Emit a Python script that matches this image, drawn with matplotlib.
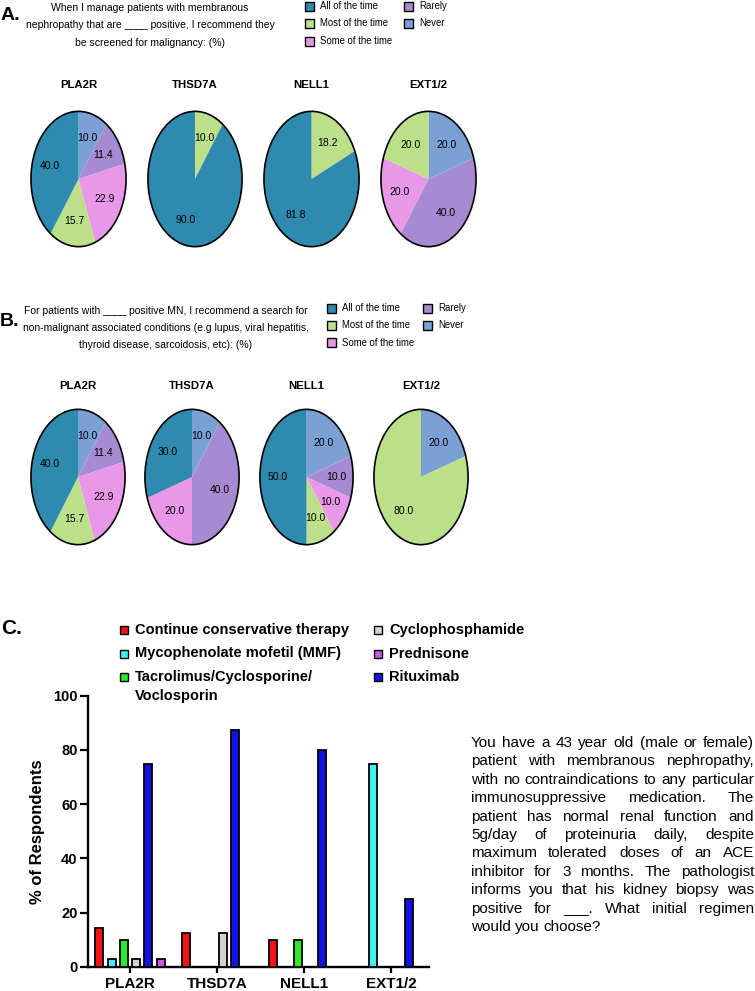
import numpy as np
import matplotlib
matplotlib.use("Agg")
import matplotlib.pyplot as plt
from matplotlib.patches import Rectangle, Ellipse

W, H = 755, 991
fig = plt.figure(figsize=(W / 100, H / 100), dpi=100)

ARIAL = ["Liberation Sans", "DejaVu Sans"]

# ---- data ----
antigens = ["PLA2R", "THSD7A", "NELL1", "EXT1/2"]
freq_labels = ["All of the time", "Most of the time", "Some of the time", "Rarely", "Never"]
freq_colors = ["#2E8AAE", "#BCE08A", "#E997E9", "#A68BD3", "#7BA1D4"]

# values per antigen, order: All, Most, Some, Rarely, Never
malignancy = [[40.0, 15.7, 22.9, 11.4, 10.0],
              [90.0, 10.0, 0, 0, 0],
              [81.8, 18.2, 0, 0, 0],
              [0, 20.0, 20.0, 40.0, 20.0]]
non_malignant = [[40.0, 15.7, 22.9, 11.4, 10.0],
                 [30.0, 0, 20.0, 40.0, 10.0],
                 [50.0, 10.0, 10.0, 10.0, 20.0],
                 [0, 80.0, 0, 0, 20.0]]

regimens = ["Continue conservative therapy", "Mycophenolate mofetil (MMF)",
            "Tacrolimus/Cyclosporine/\nVoclosporin", "Cyclophosphamide",
            "Prednisone", "Rituximab"]
regimen_colors = ["#F21313", "#3FF2F2", "#2BEB2B", "#D2D2D2", "#C55BE6", "#1212E6"]
# bar order within group: conservative, MMF, tacrolimus, cyclophosphamide, rituximab, prednisone
bar_order = [0, 1, 2, 3, 5, 4]
regimen_pct = {  # cols = regimens (legend order)
    "PLA2R":  [14.3, 2.9, 10.0, 2.9, 2.9, 75.0],
    "THSD7A": [12.5, 0, 0, 12.5, 0, 87.5],
    "NELL1":  [10.0, 0, 10.0, 0, 0, 80.0],
    "EXT1/2": [0, 75.0, 0, 0, 0, 25.0],
}

question_c = [
    "You have a 43 year old (male or female)",
    "patient with membranous nephropathy,",
    "with no contraindications to any particular",
    "immunosuppressive medication. The",
    "patient has normal renal function and",
    "5g/day of proteinuria daily, despite",
    "maximum tolerated doses of an ACE",
    "inhibitor for 3 months. The pathologist",
    "informs you that his kidney biopsy was",
    "positive for ___. What initial regimen",
    "would you choose?",
]


def fx(px):
    return px / W


def fy(py):
    return 1 - py / H


def legend_block(x, y, labels, colors, rows, col_x, row_dy, box, gap, line_dy=19, **kw):
    for i, (lab, c) in enumerate(zip(labels, colors)):
        col, row = divmod(i, rows)
        px = x + col_x[col]
        py = y + row * row_dy
        fig.patches.append(Rectangle((fx(px), fy(py + box / 2)), box / W, box / H,
                                     transform=fig.transFigure, fc=c, ec="black", lw=1.0))
        for k, line in enumerate(lab.split("\n")):
            fig.text(fx(px + box + gap), fy(py + k * line_dy), line, va="center", ha="left", **kw)


def pie_row(values, boxes, cy, title_y):
    for name, vals, (x0, x1) in zip(antigens, values, boxes):
        h = 138
        ax = fig.add_axes([fx(x0), fy(cy + h / 2), (x1 - x0) / W, h / H])
        order = [4, 3, 2, 1, 0]
        v = [vals[i] for i in order]
        c = [freq_colors[i] for i in order]
        ax.pie(v, colors=c, startangle=90, counterclock=False,
               autopct=lambda p: f"{p:.1f}" if p > 0.05 else "", pctdistance=0.63,
               wedgeprops=dict(linewidth=0), textprops=dict(family=ARIAL, fontsize=7.5))
        ax.add_patch(Ellipse((0, 0), 2, 2, fill=False, ec="black", lw=1.2))
        ax.set_aspect("auto")
        ax.set_xlim(-1.02, 1.02)
        ax.set_ylim(-1.02, 1.02)
        ax.axis("off")
        fig.text(fx((x0 + x1) / 2), fy(title_y), name, ha="center", va="center",
                 family=ARIAL, fontsize=8.2, fontweight="bold")


# ---- panel A ----
fig.text(fx(1), fy(15), "A.", family=ARIAL, fontsize=14, fontweight="bold", va="center")
for k, line in enumerate(["When I manage patients with membranous",
                          "nephropathy that are ____ positive, I recommend they",
                          "be screened for malignancy: (%)"]):
    fig.text(fx(150), fy(8 + k * 17.5), line, ha="center", va="center", family=ARIAL, fontsize=7.5)
legend_block(305, 6, freq_labels, freq_colors, 3, [0, 99], 17.5, 9, 6, family=ARIAL, fontsize=6.9)
pie_row(malignancy, [(30, 127), (147, 243), (263, 360), (380, 477)], 179, 85)

# ---- panel B ----
fig.text(fx(0), fy(321), "B.", family=ARIAL, fontsize=14, fontweight="bold", va="center")
for k, line in enumerate(["For patients with ____ positive MN, I recommend a search for",
                          "non-malignant associated conditions (e.g lupus, viral hepatitis,",
                          "thyroid disease, sarcoidosis, etc): (%)"]):
    fig.text(fx(166), fy(311 + k * 17), line, ha="center", va="center", family=ARIAL, fontsize=7.5)
legend_block(327, 308, freq_labels, freq_colors, 3, [0, 96], 17.5, 9, 6, family=ARIAL, fontsize=6.9)
pie_row(non_malignant, [(30, 126), (144, 240), (259, 354), (373, 469)], 477, 386)

# ---- panel C ----
fig.text(fx(1), fy(628), "C.", family=ARIAL, fontsize=15, fontweight="bold", va="center")
legend_block(120, 630, regimens, regimen_colors, 3, [0, 254], 23.5, 8, 7,
             family=ARIAL, fontsize=10.5, fontweight="bold")

axc = fig.add_axes([fx(88), fy(967), (429 - 88) / W, (967 - 695.7) / H])
xg = np.arange(len(antigens))
slot, bw = 0.1414, 0.092
for pos, ri in enumerate(bar_order):
    vals = [regimen_pct[a][ri] for a in antigens]
    xs = xg + (pos - 2.5) * slot
    for xv, yv in zip(xs, vals):
        if yv > 0:
            axc.bar(xv, yv, width=bw, color=regimen_colors[ri], edgecolor="black",
                    linewidth=1.3, zorder=3)
axc.set_xlim(-0.483, 3.437)
axc.set_ylim(0, 100)
axc.set_yticks([0, 20, 40, 60, 80, 100])
axc.set_xticks(xg)
axc.set_xticklabels(antigens)
for s in ["top", "right"]:
    axc.spines[s].set_visible(False)
for s in ["left", "bottom"]:
    axc.spines[s].set_linewidth(1.7)
axc.tick_params(axis="y", length=5.5, width=1.6, pad=2)
axc.tick_params(axis="x", length=4.5, width=1.6, pad=3)
for lab in axc.get_yticklabels():
    lab.set_fontfamily(ARIAL)
    lab.set_fontweight("bold")
    lab.set_fontsize(10.5)
for lab in axc.get_xticklabels():
    lab.set_fontfamily(ARIAL)
    lab.set_fontweight("bold")
    lab.set_fontsize(11)
axc.set_ylabel("% of Respondents", family=ARIAL, fontweight="bold", fontsize=12, labelpad=6)

# ---- justified question text ----
renderer = fig.canvas.get_renderer()
x_left, x_right = 471, 754
probe = fig.text(0, 0, question_c[2], family=ARIAL, fontsize=10)
q_size = 10 * (x_right - x_left - 2) / probe.get_window_extent(renderer).width
probe.remove()
for k, line in enumerate(question_c):
    y = fy(743 + k * 18.4)
    words = line.split(" ")
    texts = [fig.text(0, y, w, va="center", ha="left", family=ARIAL, fontsize=q_size) for w in words]
    widths = [t.get_window_extent(renderer).width for t in texts]
    if k == len(question_c) - 1 or len(words) == 1:
        gap = q_size * 0.38
    else:
        gap = (x_right - x_left - sum(widths)) / (len(words) - 1)
    xpos = x_left
    for t, wd in zip(texts, widths):
        t.set_x(fx(xpos))
        xpos += wd + gap

fig.savefig("out.png", dpi=100)
